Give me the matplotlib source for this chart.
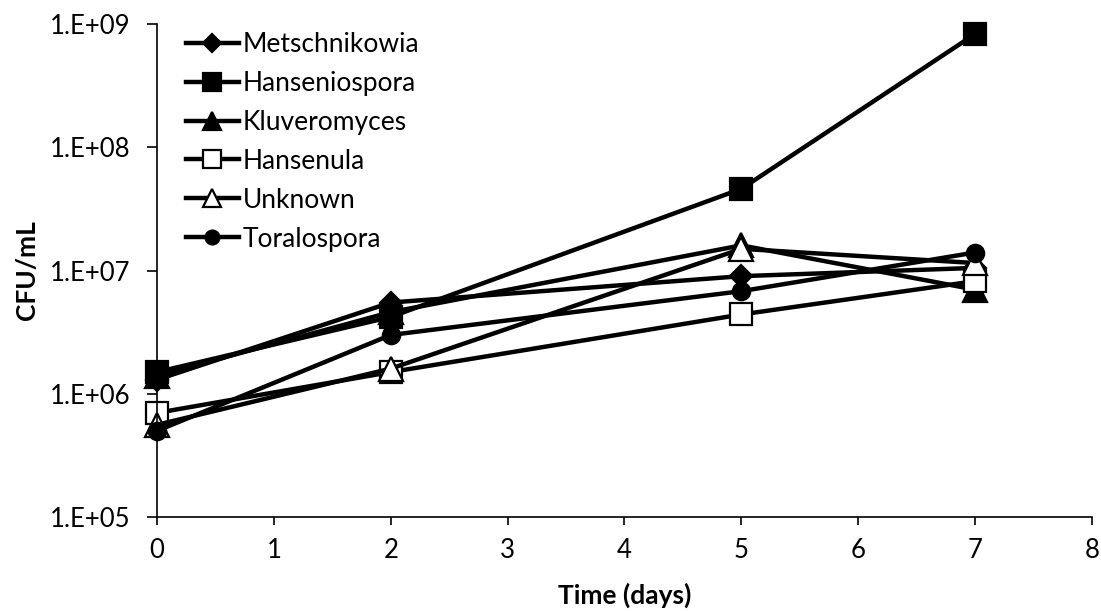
import matplotlib
matplotlib.use("Agg")
import matplotlib.pyplot as plt
from matplotlib.ticker import FixedLocator, NullLocator

plt.rcParams['font.family'] = ['Lato', 'DejaVu Sans']

days = [0, 2, 5, 7]
metschnikowia = [1.3e6, 5.5e6, 9.0e6, 1.05e7]
hanseniospora = [1.5e6, 4.2e6, 4.6e7, 8.3e8]
kluveromyces = [1.4e6, 4.6e6, 1.6e7, 7.0e6]
hansenula = [7.0e5, 1.5e6, 4.4e6, 8.2e6]
unknown = [5.6e5, 1.6e6, 1.5e7, 1.15e7]
toralospora = [5.0e5, 3.0e6, 6.8e6, 1.4e7]

series = [
    ("Metschnikowia", metschnikowia, "D", "black", 11),
    ("Hanseniospora", hanseniospora, "s", "black", 15.5),
    ("Kluveromyces", kluveromyces, "^", "black", 17),
    ("Hansenula", hansenula, "s", "white", 15.5),
    ("Unknown", unknown, "^", "white", 17),
    ("Toralospora", toralospora, "o", "black", 12.5),
]

ytick_vals = [1e5, 1e6, 1e7, 1e8, 1e9]
ytick_labels = ["1.E+05", "1.E+06", "1.E+07", "1.E+08", "1.E+09"]
xtick_vals = list(range(0, 9))

fig = plt.figure(figsize=(11.01, 6.11), dpi=100)
ax = fig.add_axes([0.1426, 0.1538, 0.8492, 0.8069])

for name, vals, mk, fc, ms in series:
    ax.plot(days, vals, color="black", linewidth=3.2, marker=mk,
            markersize=ms, markerfacecolor=fc, markeredgecolor="black",
            markeredgewidth=1.6, label=name, clip_on=False)

ax.set_yscale("log")
ax.set_ylim(1e5, 1e9)
ax.set_xlim(0, 8)
ax.yaxis.set_major_locator(FixedLocator(ytick_vals))
ax.yaxis.set_minor_locator(NullLocator())
ax.set_yticklabels(ytick_labels)
ax.set_xticks(xtick_vals)

for s in ("top", "right"):
    ax.spines[s].set_visible(False)
for s in ("left", "bottom"):
    ax.spines[s].set_linewidth(1.2)

ax.tick_params(axis="y", direction="out", length=7, width=1.2,
               labelsize=18.5, pad=12)
ax.tick_params(axis="x", direction="out", length=6, width=1.2,
               labelsize=18.5, pad=9)

ax.set_xlabel("Time (days)", fontsize=19, fontweight="bold", labelpad=14)
ax.set_ylabel("CFU/mL", fontsize=19, fontweight="bold", labelpad=8)

leg = ax.legend(loc="upper left", bbox_to_anchor=(0.169, 0.948),
                bbox_transform=fig.transFigure, frameon=False,
                fontsize=19, handlelength=2.0, handletextpad=0.15,
                labelspacing=0.53, borderpad=0.0, borderaxespad=0.0,
                markerscale=0.8)

fig.savefig("out.png", dpi=100)
